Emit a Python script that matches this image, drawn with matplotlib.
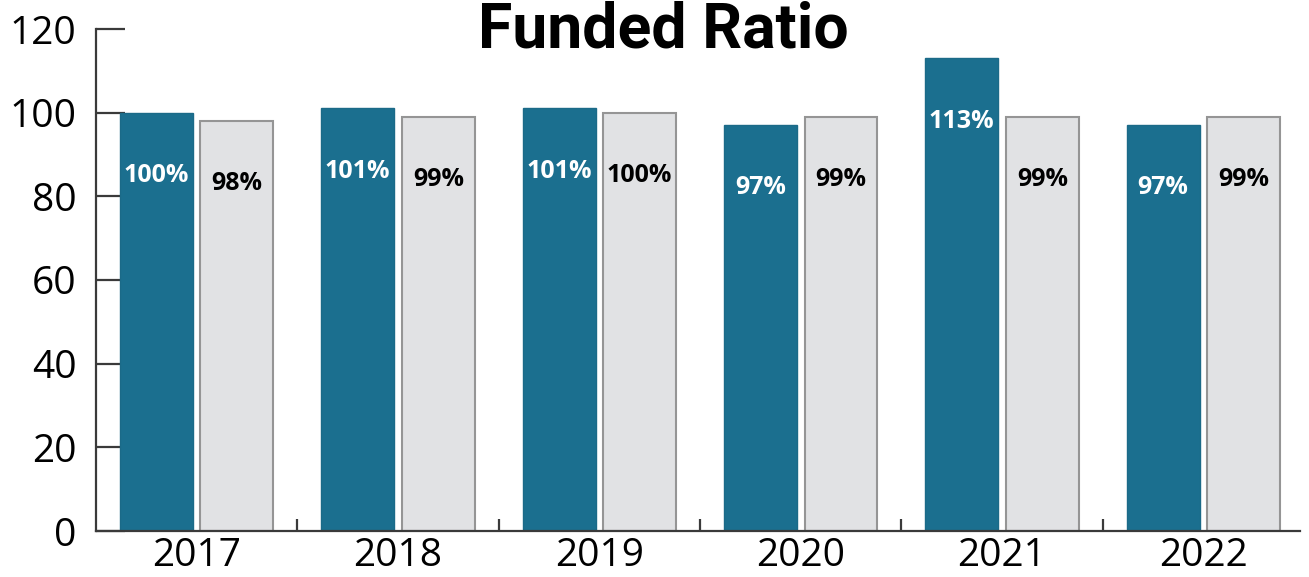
import matplotlib.pyplot as plt
import numpy as np

# Данные
years = ['2017', '2018', '2019', '2020', '2021', '2022']
plan = [100, 101, 101, 97, 113, 97]
peer = [98, 99, 100, 99, 99, 99]

x = np.arange(len(years))
w = 0.362
off = 0.2

fig = plt.figure(figsize=(13.09, 5.77), dpi=100, facecolor='white')
ax = fig.add_axes([96 / 1309, 46 / 577, 1204 / 1309, 502 / 577])

ax.bar(x - off, plan, width=w, color='#1b6f8f', edgecolor='#1b6a88', linewidth=1, zorder=2)
ax.bar(x + off, peer, width=w, color='#e1e2e4', edgecolor='#959595', linewidth=1.5, zorder=2)

# Подписи внутри столбцов
for xi, v in zip(x, plan):
    ax.text(xi - off, v - 15, f'{v}%', ha='center', va='center', color='white',
            fontsize=18, fontweight='bold', family='Open Sans', zorder=3)
for xi, v in zip(x, peer):
    ax.text(xi + off, v - 15, f'{v}%', ha='center', va='center', color='black',
            fontsize=18, fontweight='bold', family='Open Sans', zorder=3)

ax.set_xlim(-0.5, 5.48)
ax.set_ylim(0, 120)
ax.set_yticks(np.arange(0, 121, 20))
ax.set_xticks(x)
ax.set_xticklabels(years)
ax.set_xticks(np.arange(0.5, 5, 1), minor=True)

for s in ['top', 'right']:
    ax.spines[s].set_visible(False)
for s in ['left', 'bottom']:
    ax.spines[s].set_color('#3a3a3a')
    ax.spines[s].set_linewidth(1.6)

ax.set_axisbelow(True)
ax.tick_params(axis='y', direction='in', length=21, width=1.6, color='#3a3a3a',
               labelsize=28, pad=14)
ax.tick_params(axis='x', which='major', length=0, labelsize=28, pad=4)
ax.tick_params(axis='x', which='minor', direction='in', length=9, width=1.6, color='#3a3a3a')
for lab in ax.get_xticklabels() + ax.get_yticklabels():
    lab.set_family('Open Sans')

fig.text(0.507, 1.0, 'Funded Ratio', ha='center', va='top', fontsize=45,
         fontweight='bold', family='Roboto')

fig.savefig('out.png', dpi=100)
